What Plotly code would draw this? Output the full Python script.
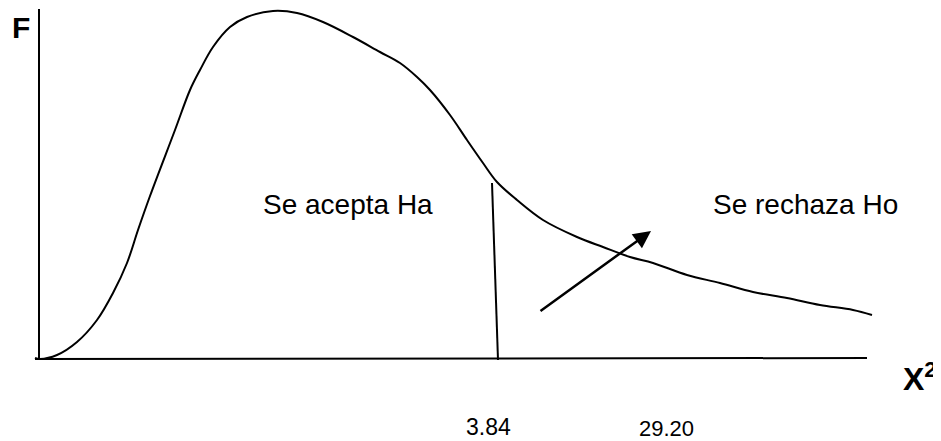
import plotly.graph_objects as go

# chi-square style density curve (pixel units, y down)
curve_x = [35, 40, 57, 77, 97, 113, 127, 138, 150, 175, 190, 200, 213, 230, 247, 273,
           297, 323, 353, 380, 400, 417, 430, 450, 467, 483, 497, 517, 543, 577, 603, 630,
           653, 687, 720, 753, 787, 820, 853, 872]
curve_y = [358, 359, 355, 342, 320, 293, 263, 230, 196, 130, 90, 70, 47, 27, 17, 11,
           13, 22, 37, 52, 63, 77, 90, 115, 140, 163, 182, 200, 220, 237, 247, 257,
           263, 275, 283, 292, 298, 305, 310, 315]

yaxis_x = [39, 39]
yaxis_y = [358, 9]
xaxis_x = [35, 867]
xaxis_y = [359, 358]

crit_x = [492, 498]
crit_y = [183, 360]

arrow_from = (539, 312)
arrow_to = (651, 231)

labels = ["F", "X<sup>2</sup>", "Se acepta Ha", "Se rechaza Ho", "3.84", "29.20"]
label_x = [21, 901, 435, 900, 513, 666]
label_y = [27, 377, 204, 204, 427, 428]
label_anchor = ["center", "left", "right", "right", "right", "center"]
label_size = [30, 32, 28, 28, 23, 22]
label_bold = [True, True, False, False, False, False]

# the html body has a default 8px margin; shift the view so page pixels line up
PAGE_MARGIN = 8

fig = go.Figure()
line = dict(color="black", width=2)
fig.add_trace(go.Scatter(x=curve_x, y=curve_y, mode="lines",
                         line=dict(color="black", width=2, shape="spline", smoothing=1.0)))
fig.add_trace(go.Scatter(x=yaxis_x, y=yaxis_y, mode="lines", line=line))
fig.add_trace(go.Scatter(x=xaxis_x, y=xaxis_y, mode="lines", line=line))
fig.add_trace(go.Scatter(x=crit_x, y=crit_y, mode="lines", line=line))

fig.add_annotation(x=arrow_to[0], y=arrow_to[1], ax=arrow_from[0], ay=arrow_from[1],
                   xref="x", yref="y", axref="x", ayref="y", text="",
                   showarrow=True, arrowhead=2, arrowsize=1.4, arrowwidth=2.5,
                   arrowcolor="black")

for t, x, y, a, s, b in zip(labels, label_x, label_y, label_anchor, label_size, label_bold):
    fig.add_annotation(x=x, y=y, xref="x", yref="y", showarrow=False, xanchor=a,
                       text=f"<b>{t}</b>" if b else t,
                       font=dict(family="Arial, Liberation Sans", size=s, color="black"))

fig.update_layout(
    width=941, height=441, showlegend=False,
    margin=dict(l=0, r=0, t=0, b=0),
    plot_bgcolor="white", paper_bgcolor="white",
)
fig.update_xaxes(range=[PAGE_MARGIN, 941 + PAGE_MARGIN], visible=False)
fig.update_yaxes(range=[441 + PAGE_MARGIN, PAGE_MARGIN], visible=False)

fig.write_html("out.html")
